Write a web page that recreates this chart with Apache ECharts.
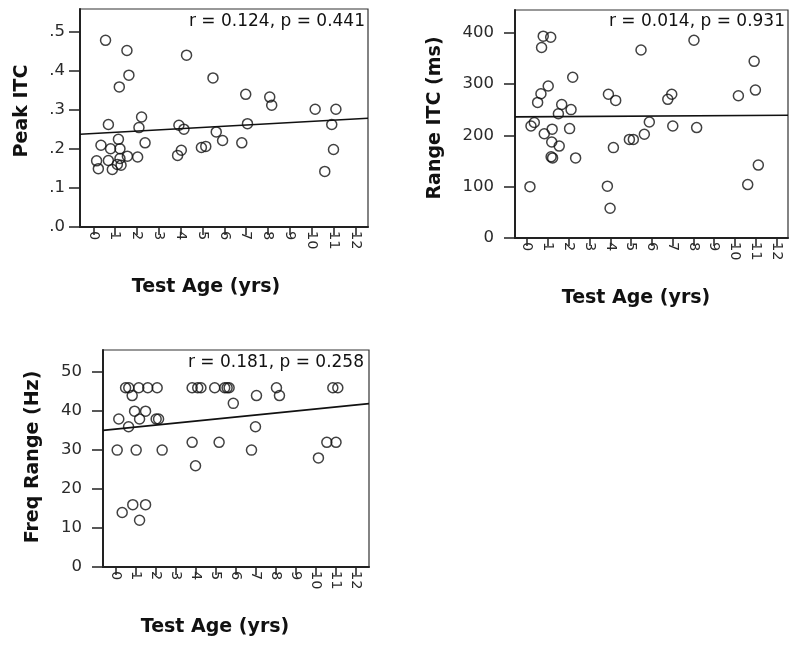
<!DOCTYPE html>
<html>
<head>
<meta charset="utf-8">
<script src="https://cdn.jsdelivr.net/npm/echarts@6/dist/echarts.min.js"></script>
<style>
html,body{margin:0;padding:0;background:#fff;}
#chart{width:800px;height:649px;}
</style>
</head>
<body>
<div id="chart"></div>
<script>
// ---- data ----
const xTicks = [0,1,2,3,4,5,6,7,8,9,10,11,12];
const peakTicks = [0,0.1,0.2,0.3,0.4,0.5];
const rangeTicks = [0,100,200,300,400];
const freqTicks = [0,10,20,30,40,50];

const agePeak = [0.56,1.54,1.63,1.19,0.69,2.21,2.09,2.37,0.35,1.15,0.79,1.22,0.15,0.23,0.69,0.87,1.10,1.22,1.27,1.56,2.03,3.92,4.15,4.03,3.86,4.27,4.95,5.15,5.48,5.63,5.92,6.80,6.98,7.06,8.08,8.17,10.16,11.11,10.92,11.0,10.6];
const peakITC = [0.477,0.451,0.388,0.358,0.262,0.281,0.254,0.215,0.209,0.224,0.200,0.200,0.169,0.149,0.170,0.147,0.160,0.175,0.158,0.181,0.179,0.260,0.250,0.196,0.183,0.439,0.203,0.206,0.381,0.243,0.221,0.215,0.339,0.264,0.332,0.311,0.301,0.301,0.262,0.198,0.142];

const ageRange = [0.13,0.18,0.34,0.77,0.69,1.13,0.50,0.66,1.01,0.82,1.20,1.18,1.15,1.22,1.54,1.66,1.50,2.11,2.19,2.04,2.33,3.91,4.26,4.15,3.86,3.99,4.92,5.11,5.64,5.88,5.48,6.77,6.96,7.01,8.03,8.16,10.17,10.93,10.99,11.13,10.62];
const rangeITC = [100,218,225,393,371,391,264,281,296,203,212,187,158,156,179,260,242,250,313,213,156,280,268,176,101,58,192,192,202,226,366,270,280,218,385,215,277,344,288,142,104];

const ageFreq = [0.05,0.13,0.3,0.47,0.63,0.8,0.62,0.83,1.0,0.92,1.17,1.17,1.13,1.47,1.47,1.58,2.05,2.0,2.12,2.3,3.8,3.97,3.8,4.08,4.24,4.93,5.43,5.55,5.65,5.86,5.15,7.02,6.97,6.77,8.02,8.17,10.12,10.54,11.0,10.84,11.09];
const freqRange = [30,38,14,46,46,44,36,16,30,40,38,12,46,16,40,46,46,38,38,30,32,26,46,46,46,46,46,46,46,42,32,44,36,30,46,44,28,32,32,46,46];

// fitted lines: [intercept, slope]
const fitPeak = [0.2387, 0.0031];
const fitRange = [236.1, 0.23];
const fitFreq = [35.4, 0.516];

const statPeak = 'r = 0.124, p = 0.441';
const statRange = 'r = 0.014, p = 0.931';
const statFreq = 'r = 0.181, p = 0.258';

// ---- layout ----
const panels = [
  {grid:{left:80, right:432, top:9, bottom:422}, xMin:-0.61, xMax:12.58, yMin:0, yMax:0.557, yTicks:peakTicks, yMargin:15,
   fmt:v=>'.'+Math.round(v*10), xs:agePeak, ys:peakITC, fit:fitPeak},
  {grid:{left:515, right:12, top:10, bottom:411}, xMin:-0.59, xMax:12.56, yMin:0, yMax:444, yTicks:rangeTicks, yMargin:21,
   fmt:v=>String(v), xs:ageRange, ys:rangeITC, fit:fitRange},
  {grid:{left:103, right:431, top:350, bottom:82}, xMin:-0.66, xMax:12.65, yMin:0, yMax:55.7, yTicks:freqTicks, yMargin:21,
   fmt:v=>String(v), xs:ageFreq, ys:freqRange, fit:fitFreq}
];

const FONT = 'DejaVu Sans';
const grids = [], xAxes = [], yAxes = [], series = [];
panels.forEach((p, i) => {
  grids.push(Object.assign({show:true, borderColor:'#333', borderWidth:1.2, backgroundColor:'#fff'}, p.grid));
  xAxes.push({
    type:'value', gridIndex:i, min:p.xMin, max:p.xMax,
    axisLine:{show:true, onZero:false, lineStyle:{color:'#222', width:2}},
    axisTick:{show:true, customValues:xTicks, length:8, lineStyle:{color:'#222', width:1.5}},
    axisLabel:{show:true, customValues:xTicks, rotate:-90, margin:4, fontFamily:FONT, fontSize:14.5, color:'#2a2a2a'},
    splitLine:{show:false}
  });
  yAxes.push({
    type:'value', gridIndex:i, min:p.yMin, max:p.yMax,
    axisLine:{show:true, onZero:false, lineStyle:{color:'#222', width:2}},
    axisTick:{show:true, customValues:p.yTicks, length:11, lineStyle:{color:'#222', width:1.5}},
    axisLabel:{show:true, customValues:p.yTicks, margin:p.yMargin, fontFamily:FONT, fontSize:16.5, color:'#2a2a2a', formatter:p.fmt},
    splitLine:{show:false}
  });
  series.push({
    type:'scatter', xAxisIndex:i, yAxisIndex:i,
    data:p.xs.map((x, k) => [x, p.ys[k]]),
    symbol:'circle', symbolSize:10,
    itemStyle:{color:'rgba(0,0,0,0)', borderColor:'#111', borderWidth:1.5},
    z:3, silent:true
  });
  series.push({
    type:'line', xAxisIndex:i, yAxisIndex:i,
    data:[[p.xMin, p.fit[0] + p.fit[1]*p.xMin], [p.xMax, p.fit[0] + p.fit[1]*p.xMax]],
    showSymbol:false, lineStyle:{color:'#111', width:1.6}, z:2, silent:true
  });
});

const titleStyle = {fontFamily:FONT, fontSize:19, fontWeight:'bold', fill:'#111', align:'center', verticalAlign:'middle'};
const statStyle = {fontFamily:FONT, fontSize:17, fill:'#111', align:'right', verticalAlign:'middle'};
const graphic = [
  {type:'text', x:206, y:287, style:Object.assign({text:'Test Age (yrs)'}, titleStyle)},
  {type:'text', x:636, y:298, style:Object.assign({text:'Test Age (yrs)'}, titleStyle)},
  {type:'text', x:215, y:627, style:Object.assign({text:'Test Age (yrs)'}, titleStyle)},
  {type:'text', x:22, y:111, rotation:Math.PI/2, style:Object.assign({text:'Peak ITC'}, titleStyle)},
  {type:'text', x:435, y:118, rotation:Math.PI/2, style:Object.assign({text:'Range ITC (ms)'}, titleStyle)},
  {type:'text', x:33, y:457, rotation:Math.PI/2, style:Object.assign({text:'Freq Range (Hz)'}, titleStyle)},
  {type:'text', x:365, y:22, z:10, style:Object.assign({text:statPeak}, statStyle)},
  {type:'text', x:785, y:22, z:10, style:Object.assign({text:statRange}, statStyle)},
  {type:'text', x:364, y:363, z:10, style:Object.assign({text:statFreq}, statStyle)}
];

const chart = echarts.init(document.getElementById('chart'), null, {renderer:'canvas'});
chart.setOption({
  animation:false,
  backgroundColor:'#fff',
  grid:grids, xAxis:xAxes, yAxis:yAxes, series:series, graphic:graphic
});
</script>
</body>
</html>
